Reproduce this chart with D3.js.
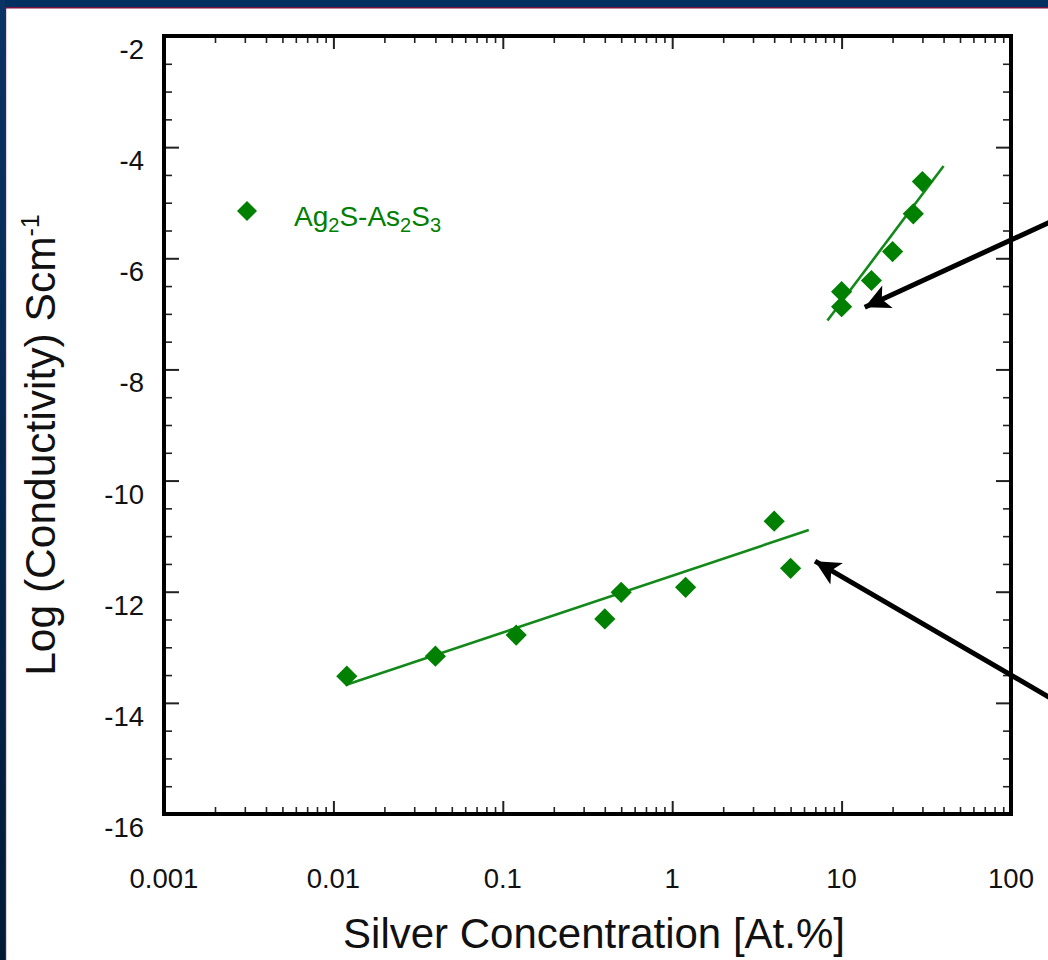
<!DOCTYPE html>
<html><head><meta charset="utf-8">
<script src="https://cdn.jsdelivr.net/npm/d3@7"></script>
<style>
body{margin:0;background:#fff;}
svg{display:block;}
text{font-family:"Liberation Sans",Arial,Helvetica,sans-serif;}
</style>
</head><body>
<svg id="chart" width="1048" height="960"></svg>
<script>
// ---- data ----
const lowConc      = [0.012, 0.04, 0.12, 0.4, 0.5, 1.2, 4, 5];
const lowLogSigma  = [-13.52, -13.16, -12.78, -12.49, -12.01, -11.92, -10.73, -11.58];
const highConc     = [10, 10, 15, 20, 26.5, 30];
const highLogSigma = [-6.87, -6.60, -6.40, -5.88, -5.20, -4.62];
const lowFitConc   = [0.0118, 6.4];
const lowFitLog    = [-13.68, -10.89];
const highFitConc  = [8.25, 40];
const highFitLog   = [-7.12, -4.34];
const xTickValues  = [0.001, 0.01, 0.1, 1, 10, 100];
const xTickLabels  = ["0.001", "0.01", "0.1", "1", "10", "100"];
const yTickValues  = [-2, -4, -6, -8, -10, -12, -14, -16];
const yTickLabels  = ["-2", "-4", "-6", "-8", "-10", "-12", "-14", "-16"];
const seriesName   = ["Ag", "2", "S-As", "2", "S", "3"];
const arrowTips    = [[13.7, -6.88], [6.97, -11.45]];
const arrowTails   = [[175, -5.33], [175, -13.93]];

const svg = d3.select("#chart");
const W = 1048, H = 960;
const L = 164, R = 1011, T = 36, B = 814;

// background / slide border
const defs = svg.append("defs");
const g1 = defs.append("linearGradient").attr("id","lb").attr("x1",0).attr("y1",0).attr("x2",0).attr("y2",1);
g1.append("stop").attr("offset","0%").attr("stop-color","#0a3465");
g1.append("stop").attr("offset","100%").attr("stop-color","#001a36");
svg.append("rect").attr("width",W).attr("height",H).attr("fill","#fff");
svg.append("rect").attr("x",0).attr("y",0).attr("width",W).attr("height",7).attr("fill","#00305f");
svg.append("rect").attr("x",0).attr("y",7).attr("width",W).attr("height",1.5).attr("fill","#7a1040");
svg.append("rect").attr("x",0).attr("y",0).attr("width",5).attr("height",H).attr("fill","url(#lb)");
svg.append("rect").attr("x",5).attr("y",8).attr("width",1.2).attr("height",H).attr("fill","#6a1040");

const x = d3.scaleLog().domain([0.001, 100]).range([L, R]);
const y = d3.scaleLinear().domain([-16, -2]).range([B, T]);

const minorX = [];
for (let d = 0.001; d < 100; d *= 10) for (let k = 2; k <= 9; k++) minorX.push(+(d*k).toPrecision(3));
const minorY = d3.range(-16, -2, 0.5).filter(v => v % 2 !== 0);
const majorY = yTickValues.filter(v => v !== -2 && v !== -16);
const majorX = xTickValues.filter(v => v !== 0.001 && v !== 100);

function styleAxis(g, w) {
  g.select(".domain").remove();
  g.selectAll(".tick line").attr("stroke", "#222").attr("stroke-width", w);
  g.selectAll(".tick text").remove();
}
// bottom
svg.append("g").attr("transform",`translate(0,${B})`)
  .call(d3.axisBottom(x).tickValues(minorX).tickSize(-7).tickFormat(""))
  .call(g => styleAxis(g, 1.6));
svg.append("g").attr("transform",`translate(0,${B})`)
  .call(d3.axisBottom(x).tickValues(majorX).tickSize(-13).tickFormat(""))
  .call(g => styleAxis(g, 2));
// top
svg.append("g").attr("transform",`translate(0,${T})`)
  .call(d3.axisTop(x).tickValues(minorX).tickSize(-7).tickFormat(""))
  .call(g => styleAxis(g, 1.6));
svg.append("g").attr("transform",`translate(0,${T})`)
  .call(d3.axisTop(x).tickValues(majorX).tickSize(-13).tickFormat(""))
  .call(g => styleAxis(g, 2));
// left
svg.append("g").attr("transform",`translate(${L},0)`)
  .call(d3.axisLeft(y).tickValues(minorY).tickSize(-8).tickFormat(""))
  .call(g => styleAxis(g, 1.6));
svg.append("g").attr("transform",`translate(${L},0)`)
  .call(d3.axisLeft(y).tickValues(majorY).tickSize(-15).tickFormat(""))
  .call(g => styleAxis(g, 2));
// right
svg.append("g").attr("transform",`translate(${R},0)`)
  .call(d3.axisRight(y).tickValues(minorY).tickSize(-8).tickFormat(""))
  .call(g => styleAxis(g, 1.6));
svg.append("g").attr("transform",`translate(${R},0)`)
  .call(d3.axisRight(y).tickValues(majorY).tickSize(-15).tickFormat(""))
  .call(g => styleAxis(g, 2));

// frame
svg.append("rect").attr("x",L).attr("y",T).attr("width",R-L).attr("height",B-T)
  .attr("fill","none").attr("stroke","#000").attr("stroke-width",4);

// tick labels
svg.append("g").selectAll("text").data(xTickValues).join("text")
  .attr("x", d => x(d)).attr("y", 888).attr("text-anchor","middle")
  .attr("font-size", 27.5).attr("fill","#111")
  .text((d,i) => xTickLabels[i]);
svg.append("g").selectAll("text").data(yTickValues).join("text")
  .attr("x", 144).attr("y", d => y(d) + 23).attr("text-anchor","end")
  .attr("font-size", 27.5).attr("fill","#111")
  .text((d,i) => yTickLabels[i]);

// axis titles
svg.append("text").attr("x", 594).attr("y", 948).attr("text-anchor","middle")
  .attr("font-size", 42).attr("fill","#111").text("Silver Concentration [At.%]");
const yt = svg.append("text").attr("transform","translate(55,445) rotate(-90)")
  .attr("text-anchor","middle").attr("font-size", 42.5).attr("fill","#111");
yt.append("tspan").text("Log (Conductivity) Scm");
yt.append("tspan").attr("dy", -16).attr("font-size", 25).text("-1");

// fit lines
const line = d3.line().x(d => x(d[0])).y(d => y(d[1]));
const green = "#008000";
svg.append("path").datum(lowFitConc.map((c,i) => [c, lowFitLog[i]]))
  .attr("d", line).attr("fill","none").attr("stroke","#13891a").attr("stroke-width",2.6);
svg.append("path").datum(highFitConc.map((c,i) => [c, highFitLog[i]]))
  .attr("d", line).attr("fill","none").attr("stroke","#13891a").attr("stroke-width",2.6);

// points
const diamond = d3.symbol().type(d3.symbolSquare).size(225);
const pts = lowConc.map((c,i) => [c, lowLogSigma[i]]).concat(highConc.map((c,i) => [c, highLogSigma[i]]));
svg.append("g").selectAll("path").data(pts).join("path")
  .attr("d", diamond)
  .attr("transform", d => `translate(${x(d[0])},${y(d[1])}) rotate(45)`)
  .attr("fill", green);

// legend
svg.append("path").attr("d", d3.symbol().type(d3.symbolSquare).size(200)).attr("transform","translate(247,211) rotate(45)").attr("fill", green);
const lt = svg.append("text").attr("x", 294).attr("y", 226).attr("fill", green);
seriesName.forEach((s, i) => {
  const sub = i % 2 === 1;
  lt.append("tspan").attr("font-size", sub ? 20 : 28).attr("dy", sub ? 6 : (i > 0 ? -6 : 0)).text(s);
});

// arrows
const ah = defs.append("marker").attr("id","ah").attr("viewBox","0 0 10 10")
  .attr("refX", 10).attr("refY", 5).attr("markerWidth", 6.5).attr("markerHeight", 5)
  .attr("markerUnits","strokeWidth").attr("orient","auto");
ah.append("path").attr("d","M0,0 L10,5 L0,10 L2.5,5 Z").attr("fill","#000");
arrowTips.forEach((tip, i) => {
  const tail = arrowTails[i];
  svg.append("line")
    .attr("x1", x(tail[0])).attr("y1", y(tail[1]))
    .attr("x2", x(tip[0])).attr("y2", y(tip[1]))
    .attr("stroke","#000").attr("stroke-width",5).attr("marker-end","url(#ah)");
});
</script>
</body></html>
